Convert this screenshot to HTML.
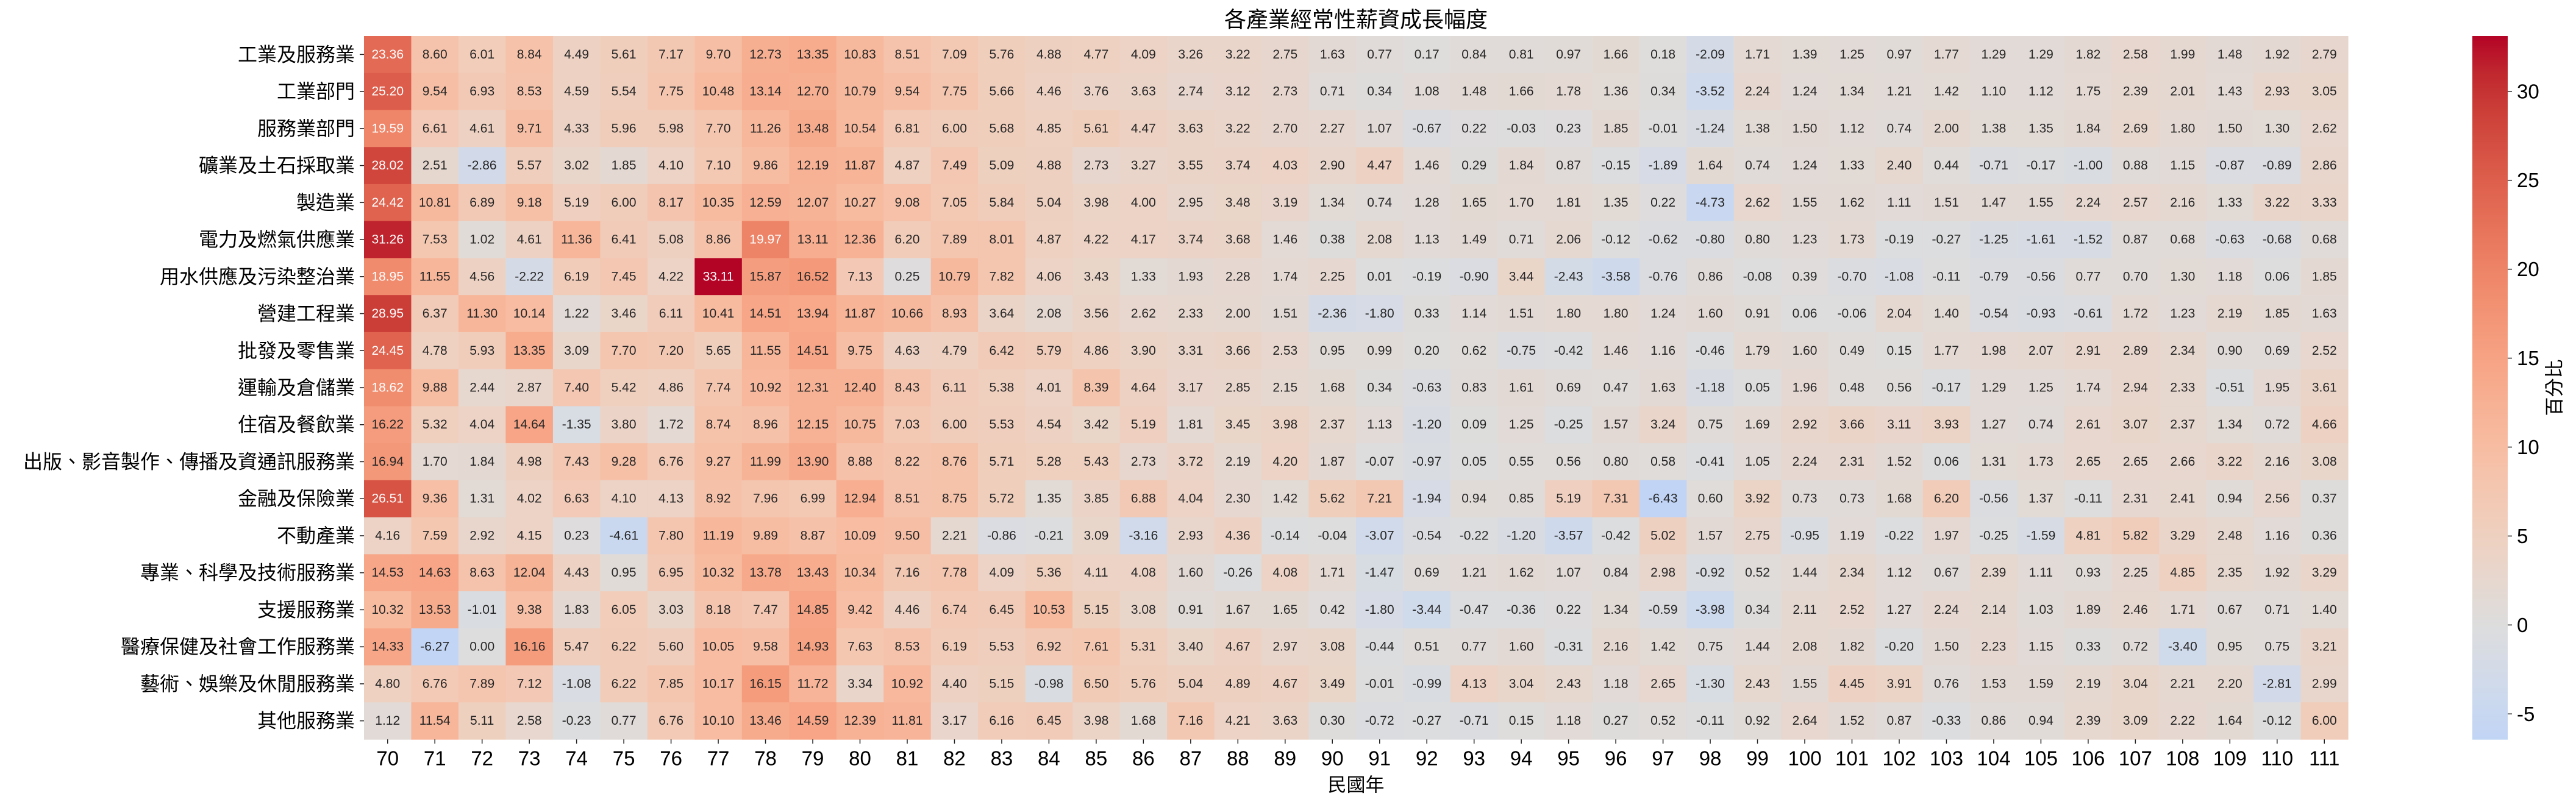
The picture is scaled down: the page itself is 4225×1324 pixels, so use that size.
<!DOCTYPE html>
<html><head><meta charset="utf-8"><style>
html,body{margin:0;padding:0;background:#fff;}
svg{display:block;font-family:"Liberation Sans","Noto Sans CJK TC",sans-serif;}
</style></head><body>
<svg id="chart" width="4225" height="1324" viewBox="0 0 4225 1324" xmlns="http://www.w3.org/2000/svg">
<rect x="0" y="0" width="4225" height="1324" fill="#fff"/>
<text x="2224" y="32" font-size="36" text-anchor="middle" dominant-baseline="central" fill="#000">各產業經常性薪資成長幅度</text>
<g id="cells"></g>
<g id="ylabels"></g>
<g id="xlabels"></g>
<text x="2224" y="1288" font-size="31" text-anchor="middle" dominant-baseline="central" fill="#000">民國年</text>
<g id="cbar"></g>
<text transform="translate(4190,636) rotate(-90)" font-size="31" text-anchor="middle" dominant-baseline="central" fill="#000">百分比</text>
</svg>
<script>
const years = [70,71,72,73,74,75,76,77,78,79,80,81,82,83,84,85,86,87,88,89,90,91,92,93,94,95,96,97,98,99,100,101,102,103,104,105,106,107,108,109,110,111];
const rowLabels = ["工業及服務業","工業部門","服務業部門","礦業及土石採取業","製造業","電力及燃氣供應業","用水供應及污染整治業","營建工程業","批發及零售業","運輸及倉儲業","住宿及餐飲業","出版、影音製作、傳播及資通訊服務業","金融及保險業","不動產業","專業、科學及技術服務業","支援服務業","醫療保健及社會工作服務業","藝術、娛樂及休閒服務業","其他服務業"];
const values = [
[23.36,8.60,6.01,8.84,4.49,5.61,7.17,9.70,12.73,13.35,10.83,8.51,7.09,5.76,4.88,4.77,4.09,3.26,3.22,2.75,1.63,0.77,0.17,0.84,0.81,0.97,1.66,0.18,-2.09,1.71,1.39,1.25,0.97,1.77,1.29,1.29,1.82,2.58,1.99,1.48,1.92,2.79],
[25.20,9.54,6.93,8.53,4.59,5.54,7.75,10.48,13.14,12.70,10.79,9.54,7.75,5.66,4.46,3.76,3.63,2.74,3.12,2.73,0.71,0.34,1.08,1.48,1.66,1.78,1.36,0.34,-3.52,2.24,1.24,1.34,1.21,1.42,1.10,1.12,1.75,2.39,2.01,1.43,2.93,3.05],
[19.59,6.61,4.61,9.71,4.33,5.96,5.98,7.70,11.26,13.48,10.54,6.81,6.00,5.68,4.85,5.61,4.47,3.63,3.22,2.70,2.27,1.07,-0.67,0.22,-0.03,0.23,1.85,-0.01,-1.24,1.38,1.50,1.12,0.74,2.00,1.38,1.35,1.84,2.69,1.80,1.50,1.30,2.62],
[28.02,2.51,-2.86,5.57,3.02,1.85,4.10,7.10,9.86,12.19,11.87,4.87,7.49,5.09,4.88,2.73,3.27,3.55,3.74,4.03,2.90,4.47,1.46,0.29,1.84,0.87,-0.15,-1.89,1.64,0.74,1.24,1.33,2.40,0.44,-0.71,-0.17,-1.00,0.88,1.15,-0.87,-0.89,2.86],
[24.42,10.81,6.89,9.18,5.19,6.00,8.17,10.35,12.59,12.07,10.27,9.08,7.05,5.84,5.04,3.98,4.00,2.95,3.48,3.19,1.34,0.74,1.28,1.65,1.70,1.81,1.35,0.22,-4.73,2.62,1.55,1.62,1.11,1.51,1.47,1.55,2.24,2.57,2.16,1.33,3.22,3.33],
[31.26,7.53,1.02,4.61,11.36,6.41,5.08,8.86,19.97,13.11,12.36,6.20,7.89,8.01,4.87,4.22,4.17,3.74,3.68,1.46,0.38,2.08,1.13,1.49,0.71,2.06,-0.12,-0.62,-0.80,0.80,1.23,1.73,-0.19,-0.27,-1.25,-1.61,-1.52,0.87,0.68,-0.63,-0.68,0.68],
[18.95,11.55,4.56,-2.22,6.19,7.45,4.22,33.11,15.87,16.52,7.13,0.25,10.79,7.82,4.06,3.43,1.33,1.93,2.28,1.74,2.25,0.01,-0.19,-0.90,3.44,-2.43,-3.58,-0.76,0.86,-0.08,0.39,-0.70,-1.08,-0.11,-0.79,-0.56,0.77,0.70,1.30,1.18,0.06,1.85],
[28.95,6.37,11.30,10.14,1.22,3.46,6.11,10.41,14.51,13.94,11.87,10.66,8.93,3.64,2.08,3.56,2.62,2.33,2.00,1.51,-2.36,-1.80,0.33,1.14,1.51,1.80,1.80,1.24,1.60,0.91,0.06,-0.06,2.04,1.40,-0.54,-0.93,-0.61,1.72,1.23,2.19,1.85,1.63],
[24.45,4.78,5.93,13.35,3.09,7.70,7.20,5.65,11.55,14.51,9.75,4.63,4.79,6.42,5.79,4.86,3.90,3.31,3.66,2.53,0.95,0.99,0.20,0.62,-0.75,-0.42,1.46,1.16,-0.46,1.79,1.60,0.49,0.15,1.77,1.98,2.07,2.91,2.89,2.34,0.90,0.69,2.52],
[18.62,9.88,2.44,2.87,7.40,5.42,4.86,7.74,10.92,12.31,12.40,8.43,6.11,5.38,4.01,8.39,4.64,3.17,2.85,2.15,1.68,0.34,-0.63,0.83,1.61,0.69,0.47,1.63,-1.18,0.05,1.96,0.48,0.56,-0.17,1.29,1.25,1.74,2.94,2.33,-0.51,1.95,3.61],
[16.22,5.32,4.04,14.64,-1.35,3.80,1.72,8.74,8.96,12.15,10.75,7.03,6.00,5.53,4.54,3.42,5.19,1.81,3.45,3.98,2.37,1.13,-1.20,0.09,1.25,-0.25,1.57,3.24,0.75,1.69,2.92,3.66,3.11,3.93,1.27,0.74,2.61,3.07,2.37,1.34,0.72,4.66],
[16.94,1.70,1.84,4.98,7.43,9.28,6.76,9.27,11.99,13.90,8.88,8.22,8.76,5.71,5.28,5.43,2.73,3.72,2.19,4.20,1.87,-0.07,-0.97,0.05,0.55,0.56,0.80,0.58,-0.41,1.05,2.24,2.31,1.52,0.06,1.31,1.73,2.65,2.65,2.66,3.22,2.16,3.08],
[26.51,9.36,1.31,4.02,6.63,4.10,4.13,8.92,7.96,6.99,12.94,8.51,8.75,5.72,1.35,3.85,6.88,4.04,2.30,1.42,5.62,7.21,-1.94,0.94,0.85,5.19,7.31,-6.43,0.60,3.92,0.73,0.73,1.68,6.20,-0.56,1.37,-0.11,2.31,2.41,0.94,2.56,0.37],
[4.16,7.59,2.92,4.15,0.23,-4.61,7.80,11.19,9.89,8.87,10.09,9.50,2.21,-0.86,-0.21,3.09,-3.16,2.93,4.36,-0.14,-0.04,-3.07,-0.54,-0.22,-1.20,-3.57,-0.42,5.02,1.57,2.75,-0.95,1.19,-0.22,1.97,-0.25,-1.59,4.81,5.82,3.29,2.48,1.16,0.36],
[14.53,14.63,8.63,12.04,4.43,0.95,6.95,10.32,13.78,13.43,10.34,7.16,7.78,4.09,5.36,4.11,4.08,1.60,-0.26,4.08,1.71,-1.47,0.69,1.21,1.62,1.07,0.84,2.98,-0.92,0.52,1.44,2.34,1.12,0.67,2.39,1.11,0.93,2.25,4.85,2.35,1.92,3.29],
[10.32,13.53,-1.01,9.38,1.83,6.05,3.03,8.18,7.47,14.85,9.42,4.46,6.74,6.45,10.53,5.15,3.08,0.91,1.67,1.65,0.42,-1.80,-3.44,-0.47,-0.36,0.22,1.34,-0.59,-3.98,0.34,2.11,2.52,1.27,2.24,2.14,1.03,1.89,2.46,1.71,0.67,0.71,1.40],
[14.33,-6.27,0.00,16.16,5.47,6.22,5.60,10.05,9.58,14.93,7.63,8.53,6.19,5.53,6.92,7.61,5.31,3.40,4.67,2.97,3.08,-0.44,0.51,0.77,1.60,-0.31,2.16,1.42,0.75,1.44,2.08,1.82,-0.20,1.50,2.23,1.15,0.33,0.72,-3.40,0.95,0.75,3.21],
[4.80,6.76,7.89,7.12,-1.08,6.22,7.85,10.17,16.15,11.72,3.34,10.92,4.40,5.15,-0.98,6.50,5.76,5.04,4.89,4.67,3.49,-0.01,-0.99,4.13,3.04,2.43,1.18,2.65,-1.30,2.43,1.55,4.45,3.91,0.76,1.53,1.59,2.19,3.04,2.21,2.20,-2.81,2.99],
[1.12,11.54,5.11,2.58,-0.23,0.77,6.76,10.10,13.46,14.59,12.39,11.81,3.17,6.16,6.45,3.98,1.68,7.16,4.21,3.63,0.30,-0.72,-0.27,-0.71,0.15,1.18,0.27,0.52,-0.11,0.92,2.64,1.52,0.87,-0.33,0.86,0.94,2.39,3.09,2.22,1.64,-0.12,6.00]
];
const cbarTicks = [-5,0,5,10,15,20,25,30];

const NS = "http://www.w3.org/2000/svg";
const X0 = 597, X1 = 3851, Y0 = 59, Y1 = 1213;
const cw = (X1 - X0) / years.length, rh = (Y1 - Y0) / rowLabels.length;
let vmin = Infinity, vmax = -Infinity;
values.forEach(r => r.forEach(v => { vmin = Math.min(vmin, v); vmax = Math.max(vmax, v); }));
const vr = Math.max(vmax, -vmin);
const CW = [[59,76,192],[68,90,204],[77,104,215],[87,117,225],[98,130,234],[108,142,241],[119,154,247],[130,165,251],[141,176,254],[152,185,255],[163,194,255],[174,201,253],[184,208,249],[194,213,244],[204,217,238],[213,219,230],[221,221,221],[229,216,209],[236,211,197],[241,204,185],[245,196,173],[247,187,160],[247,177,148],[247,166,135],[244,154,123],[241,141,111],[236,127,99],[229,112,88],[222,96,77],[213,80,66],[203,62,56],[192,40,47],[180,4,38]];
function cmap(v) {
  let t = 0.5 + v / (2 * vr);
  t = Math.max(0, Math.min(1, t)) * (CW.length - 1);
  const i = Math.min(CW.length - 2, Math.floor(t)), f = t - i;
  return CW[i].map((c, k) => Math.round(c + (CW[i + 1][k] - c) * f));
}
function lum(rgb) {
  const l = rgb.map(c => { c /= 255; return c <= 0.03928 ? c / 12.92 : Math.pow((c + 0.055) / 1.055, 2.4); });
  return 0.2126 * l[0] + 0.7152 * l[1] + 0.0722 * l[2];
}
const xPos = i => X0 + i * cw;
const yPos = j => Y0 + j * rh;
const cells = document.getElementById('cells');
values.forEach((row, j) => {
  row.forEach((v, i) => {
    const c = cmap(v);
    const r = document.createElementNS(NS, 'rect');
    r.setAttribute('x', xPos(i)); r.setAttribute('y', yPos(j));
    r.setAttribute('width', cw + 0.6); r.setAttribute('height', rh + 0.6);
    r.setAttribute('fill', `rgb(${c[0]},${c[1]},${c[2]})`);
    
    
    cells.appendChild(r);
    const t = document.createElementNS(NS, 'text');
    t.setAttribute('x', xPos(i) + cw / 2); t.setAttribute('y', yPos(j) + rh / 2);
    t.setAttribute('font-size', '21'); t.setAttribute('text-anchor', 'middle');
    t.setAttribute('dominant-baseline', 'central');
    t.setAttribute('fill', lum(c) > 0.408 ? '#262626' : '#ffffff');
    t.textContent = v.toFixed(2);
    
    
    cells.appendChild(t);
  });
});
const yl = document.getElementById('ylabels');
rowLabels.forEach((lab, j) => {
  const cy = yPos(j) + rh / 2;
  const tk = document.createElementNS(NS, 'line');
  tk.setAttribute('x1', X0 - 7); tk.setAttribute('x2', X0); tk.setAttribute('y1', cy); tk.setAttribute('y2', cy);
  tk.setAttribute('stroke', '#222'); tk.setAttribute('stroke-width', '1.5');
  
  
  yl.appendChild(tk);
  const t = document.createElementNS(NS, 'text');
  t.setAttribute('x', X0 - 15); t.setAttribute('y', cy);
  t.setAttribute('font-size', '32'); t.setAttribute('text-anchor', 'end'); t.setAttribute('dominant-baseline', 'central');
  t.setAttribute('fill', '#000');
  t.textContent = lab;
  
  
  yl.appendChild(t);
});
const xl = document.getElementById('xlabels');
years.forEach((yr, i) => {
  const cx = xPos(i) + cw / 2;
  const tk = document.createElementNS(NS, 'line');
  tk.setAttribute('x1', cx); tk.setAttribute('x2', cx); tk.setAttribute('y1', Y1); tk.setAttribute('y2', Y1 + 7);
  tk.setAttribute('stroke', '#222'); tk.setAttribute('stroke-width', '1.5');
  
  
  xl.appendChild(tk);
  const t = document.createElementNS(NS, 'text');
  t.setAttribute('x', cx); t.setAttribute('y', 1244);
  t.setAttribute('font-size', '33'); t.setAttribute('text-anchor', 'middle'); t.setAttribute('dominant-baseline', 'central');
  t.setAttribute('fill', '#000');
  t.textContent = yr;
  
  
  xl.appendChild(t);
});
// colorbar
const cb = document.getElementById('cbar');
const CX0 = 4055, CX1 = 4113;
const cy = v => Y1 - (v - vmin) / (vmax - vmin) * (Y1 - Y0);
const N = 300;
for (let k = 0; k < N; k++) {
  const v0 = vmin + (vmax - vmin) * k / N, v1 = vmin + (vmax - vmin) * (k + 1) / N;
  const c = cmap((v0 + v1) / 2);
  const r = document.createElementNS(NS, 'rect');
  r.setAttribute('x', CX0); r.setAttribute('y', cy(v1));
  r.setAttribute('width', CX1 - CX0); r.setAttribute('height', cy(v0) - cy(v1) + 0.6);
  r.setAttribute('fill', `rgb(${c[0]},${c[1]},${c[2]})`);
  
  
  cb.appendChild(r);
}
cbarTicks.forEach(v => {
  const y = cy(v);
  const tk = document.createElementNS(NS, 'line');
  tk.setAttribute('x1', CX1); tk.setAttribute('x2', CX1 + 7); tk.setAttribute('y1', y); tk.setAttribute('y2', y);
  tk.setAttribute('stroke', '#222'); tk.setAttribute('stroke-width', '1.5');
  
  
  cb.appendChild(tk);
  const t = document.createElementNS(NS, 'text');
  t.setAttribute('x', CX1 + 15); t.setAttribute('y', y);
  t.setAttribute('font-size', '33'); t.setAttribute('dominant-baseline', 'central');
  t.setAttribute('fill', '#000');
  t.textContent = v;
  
  
  cb.appendChild(t);
});
</script>
</body></html>
